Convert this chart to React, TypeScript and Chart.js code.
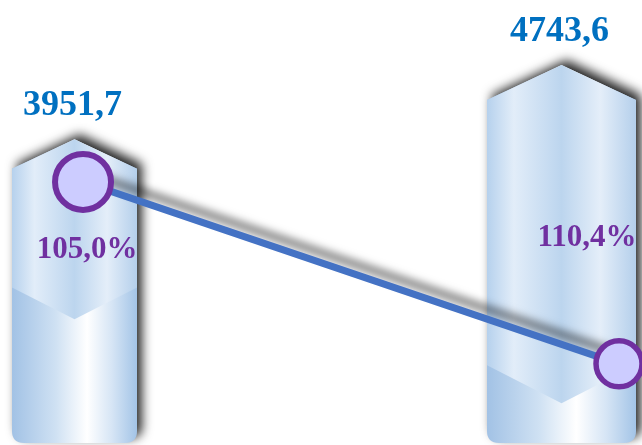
import { useEffect, useRef } from 'react';
import { Chart, registerables } from 'chart.js';

Chart.register(...registerables);

// ---- data ----
const categories = ['', ''];
const barValues = [3951.7, 4743.6];
const pctValues = [105.0, 110.4];

// ---- styles ----
const BAR_WIDTHS = [125, 149];
const LOWER_FRAC = [0.567, 0.227];
const ROOF = 0.47;
const CHEVRON = 0.51;
const CORNER = 12;
const POINT_RADII = [28, 23];
const POINT_BORDERS = [6, 5.5];
const PCT_LABEL_OFFSETS = [
  [4, 76],
  [-32, -118],
];
const BLUE = '#0070C0';
const PURPLE = '#7030A0';
const FONT = '"Liberation Serif", "Times New Roman", serif';

const fmt = (v: number, d = 1) => v.toFixed(d).replace('.', ',');

function drawBar(ctx: CanvasRenderingContext2D, x: number, top: number, base: number, w: number, lowerFrac: number) {
  const h = w / 2;
  const shoulder = top + ROOF * h;
  const edgeY = base - (base - shoulder) * lowerFrac;
  const r = CORNER;

  const lower = ctx.createLinearGradient(x - h, 0, x + h, 0);
  lower.addColorStop(0, '#a2c2e5');
  lower.addColorStop(0.35, '#cfe1f3');
  lower.addColorStop(0.6, '#ffffff');
  lower.addColorStop(0.8, '#d6e5f5');
  lower.addColorStop(1, '#a3c4e7');

  const upper = ctx.createLinearGradient(x - h, 0, x + h, 0);
  upper.addColorStop(0, '#b6d1ed');
  upper.addColorStop(0.18, '#e2edf9');
  upper.addColorStop(0.5, '#bcd5ee');
  upper.addColorStop(0.76, '#e4eef9');
  upper.addColorStop(1, '#b4cfeb');

  ctx.save();
  ctx.shadowColor = 'rgba(0,0,0,0.85)';
  ctx.shadowBlur = 11;
  ctx.shadowOffsetX = 5;
  ctx.shadowOffsetY = -5;
  ctx.beginPath();
  ctx.moveTo(x - h, shoulder);
  ctx.lineTo(x, top);
  ctx.lineTo(x + h, shoulder);
  ctx.lineTo(x + h, base - r);
  ctx.quadraticCurveTo(x + h, base, x + h - r, base);
  ctx.lineTo(x - h + r, base);
  ctx.quadraticCurveTo(x - h, base, x - h, base - r);
  ctx.closePath();
  ctx.fillStyle = lower;
  ctx.fill();
  ctx.restore();

  ctx.save();
  ctx.beginPath();
  ctx.moveTo(x - h, shoulder);
  ctx.lineTo(x, top);
  ctx.lineTo(x + h, shoulder);
  ctx.lineTo(x + h, edgeY);
  ctx.lineTo(x, edgeY + CHEVRON * h);
  ctx.lineTo(x - h, edgeY);
  ctx.closePath();
  ctx.fillStyle = upper;
  ctx.fill();
  ctx.restore();
}

function barCenter(chart: any, meta: any, i: number) {
  const xs = chart.scales[meta.xAxisID];
  return xs.getPixelForValue(meta._parsed[i].x);
}

const customPlugin = {
  id: 'custom',
  beforeDatasetDraw(chart: any, args: any) {
    const ctx = chart.ctx as CanvasRenderingContext2D;
    if (args.meta.type === 'bar') {
      const bottom = chart.chartArea.bottom;
      args.meta.data.forEach((el: any, i: number) => {
        drawBar(ctx, barCenter(chart, args.meta, i), el.y, Math.min(el.base, bottom), BAR_WIDTHS[i], LOWER_FRAC[i]);
      });
      return false;
    }
    if (args.index === 1) {
      ctx.save();
      ctx.shadowColor = 'rgba(0,0,0,0.55)';
      ctx.shadowBlur = 9;
      ctx.shadowOffsetX = 3;
      ctx.shadowOffsetY = -9;
    }
    return true;
  },
  afterDatasetDraw(chart: any, args: any) {
    if (args.index === 1) chart.ctx.restore();
  },
  afterDatasetsDraw(chart: any) {
    const ctx = chart.ctx as CanvasRenderingContext2D;
    const barMeta = chart.getDatasetMeta(0);
    ctx.save();
    ctx.textAlign = 'center';
    ctx.textBaseline = 'alphabetic';
    ctx.font = `bold 36px ${FONT}`;
    ctx.fillStyle = BLUE;
    barMeta.data.forEach((el: any, i: number) => {
      ctx.fillText(fmt(barValues[i]), barCenter(chart, barMeta, i) - 2, el.y - 24);
    });
    const ptMeta = chart.getDatasetMeta(2);
    ctx.font = `bold 31px ${FONT}`;
    ctx.fillStyle = PURPLE;
    ptMeta.data.forEach((el: any, i: number) => {
      ctx.fillText(fmt(pctValues[i]) + '%', el.x + PCT_LABEL_OFFSETS[i][0], el.y + PCT_LABEL_OFFSETS[i][1]);
    });
    ctx.restore();
  },
};

export default function App() {
  const ref = useRef<HTMLCanvasElement | null>(null);
  useEffect(() => {
    if (!ref.current) return;
    const chart = new Chart(ref.current, {
      type: 'bar',
      data: {
        labels: categories,
        datasets: [
          {
            type: 'bar',
            data: barValues.map((v, i) => ({ x: i, y: v })) as any,
            xAxisID: 'x',
            yAxisID: 'y',
            backgroundColor: 'transparent',
            barThickness: 125,
            grouped: false,
            order: 3,
          },
          {
            type: 'line',
            data: pctValues.map((v, i) => ({ x: i, y: v })) as any,
            xAxisID: 'x2',
            yAxisID: 'y2',
            borderColor: '#4472C4',
            borderWidth: 7,
            pointRadius: 0,
            fill: false,
            clip: false as any,
            order: 2,
          },
          {
            type: 'line',
            data: pctValues.map((v, i) => ({ x: i, y: v })) as any,
            xAxisID: 'x2',
            yAxisID: 'y2',
            showLine: false,
            pointRadius: POINT_RADII,
            pointBorderWidth: POINT_BORDERS,
            pointBackgroundColor: '#CCCCFF',
            pointBorderColor: PURPLE,
            clip: false as any,
            order: 1,
          },
        ] as any,
      },
      options: {
        animation: false,
        responsive: false,
        events: [],
        layout: { autoPadding: false, padding: { left: 0, right: 0, top: 0, bottom: 2 } },
        plugins: { legend: { display: false }, tooltip: { enabled: false } },
        scales: {
          x: { type: 'linear', offset: false, min: -0.153, max: 1.1653, display: false },
          x2: { type: 'linear', offset: false, min: -0.1549, max: 1.0429, display: false },
          y: { type: 'linear', min: 715, max: 5436, display: false },
          y2: { type: 'linear', min: 99.6, max: 112.75, reverse: true, display: false },
        },
      } as any,
      plugins: [customPlugin],
    });
    return () => chart.destroy();
  }, []);
  return (
    <div style={{ position: 'fixed', left: 0, top: 0, width: 642, height: 445, background: '#fff' }}>
      <canvas ref={ref} width={642} height={445} style={{ display: 'block' }} />
    </div>
  );
}
